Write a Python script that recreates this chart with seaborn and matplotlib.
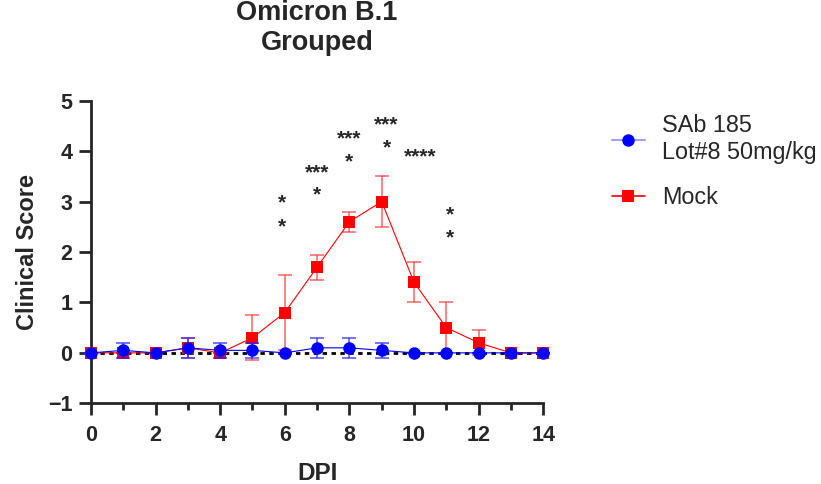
import numpy as np
import pandas as pd
import seaborn as sns
import matplotlib.pyplot as plt
from matplotlib.lines import Line2D
from matplotlib.ticker import MultipleLocator

# data
dpi_days = [0, 1, 2, 3, 4, 5, 6, 7, 8, 9, 10, 11, 12, 13, 14]
sab_mean = [0, 0.05, 0, 0.1, 0.05, 0.05, 0, 0.1, 0.1, 0.05, 0, 0, 0, 0, 0]
sab_err = [0, 0.15, 0, 0.2, 0.15, 0.15, 0, 0.2, 0.2, 0.15, 0, 0, 0, 0, 0]
mock_mean = [0, 0, 0, 0.1, 0, 0.3, 0.8, 1.7, 2.6, 3.0, 1.4, 0.5, 0.2, 0, 0]
mock_err = [0, 0, 0, 0.2, 0, 0.45, 0.75, 0.25, 0.2, 0.5, 0.4, 0.5, 0.25, 0, 0]

# significance stars (x, y of star centre, text)
star_x = [5.9, 5.9, 7.0, 7.0, 8.0, 8.0, 9.15, 9.15, 10.2, 11.1, 11.1]
star_y = [3.09, 2.62, 3.70, 3.25, 4.36, 3.92, 4.65, 4.19, 4.02, 2.87, 2.41]
star_txt = ['*', '*', '***', '*', '***', '*', '***', '*', '****', '*', '*']

sab_label = 'SAb 185\nLot#8 50mg/kg'
mock_label = 'Mock'

df = pd.DataFrame({'DPI': dpi_days, 'sab': sab_mean, 'mock': mock_mean})

sns.set_style('ticks')
plt.rcParams['font.family'] = ['Liberation Sans', 'DejaVu Sans']

fig = plt.figure(figsize=(8.21, 4.84), dpi=100)
ax = fig.add_axes([0.1108, 0.1667, 0.5509, 0.6252])

# dotted baseline at 0
ax.plot([0, 14], [0, 0], color='black', lw=2.0, ls=(0, (1.6, 1.6)), zorder=2, clip_on=False)

# error bars
ax.errorbar(dpi_days, mock_mean, yerr=mock_err, fmt='none', ecolor='#ff3030',
            elinewidth=1.1, capsize=5, capthick=1.1, alpha=0.75, zorder=3, clip_on=False)
ax.errorbar(dpi_days, sab_mean, yerr=sab_err, fmt='none', ecolor='#2020ff',
            elinewidth=1.1, capsize=5, capthick=1.1, alpha=0.8, zorder=5, clip_on=False)

sns.lineplot(data=df, x='DPI', y='mock', ax=ax, color='#ff0000', marker='s',
             markersize=8.5, markeredgewidth=0, lw=0.8, zorder=4, clip_on=False)
sns.lineplot(data=df, x='DPI', y='sab', ax=ax, color='#0000ff', marker='o',
             markersize=9, markeredgewidth=0, lw=0.8, zorder=6, clip_on=False)

for x, y, t in zip(star_x, star_y, star_txt):
    ax.annotate(t, (x, y), xytext=(0, -8.5), textcoords='offset points',
                ha='center', va='baseline', fontsize=15, fontweight='bold')

ax.set_xlim(0, 14)
ax.set_ylim(-1, 5)
ax.xaxis.set_major_locator(MultipleLocator(2))
ax.xaxis.set_minor_locator(MultipleLocator(1))
ax.yaxis.set_major_locator(MultipleLocator(1))
sns.despine(ax=ax)
for s in ['left', 'bottom']:
    ax.spines[s].set_linewidth(2.0)
ax.tick_params(which='major', length=8.3, width=2.0, labelsize=15.5, pad=5)
ax.tick_params(axis='x', which='major', pad=7.5)
ax.tick_params(which='minor', length=4.8, width=2.0)
for lab in ax.get_xticklabels() + ax.get_yticklabels():
    lab.set_fontweight('bold')

ax.set_xlabel('DPI', fontsize=17.5, fontweight='bold', labelpad=11)
ax.set_ylabel('Clinical Score', fontsize=17, fontweight='bold', labelpad=6.5)

fig.text(0.386, 1 - 28 / 484, 'Omicron B.1\nGrouped', ha='center', va='center',
         fontsize=19.5, fontweight='bold', linespacing=1.2)

# legend: light line, solid marker
h_sab = Line2D([], [], color='#a0a0ff', lw=1.5, marker='o', markersize=9,
               markerfacecolor='#0000ff', markeredgewidth=0)
h_mock = Line2D([], [], color='#ff0000', lw=1.2, marker='s', markersize=8.5,
                markerfacecolor='#ff0000', markeredgewidth=0)
ax.legend([h_sab, h_mock], [sab_label, mock_label], loc='upper left',
          bbox_to_anchor=(612 / 821, 1 - 114 / 484), bbox_transform=fig.transFigure,
          frameon=False, fontsize=16.8, handlelength=1.4, handletextpad=0.75,
          borderpad=0, labelspacing=0.95, borderaxespad=0)

fig.savefig('out.png', dpi=100)
